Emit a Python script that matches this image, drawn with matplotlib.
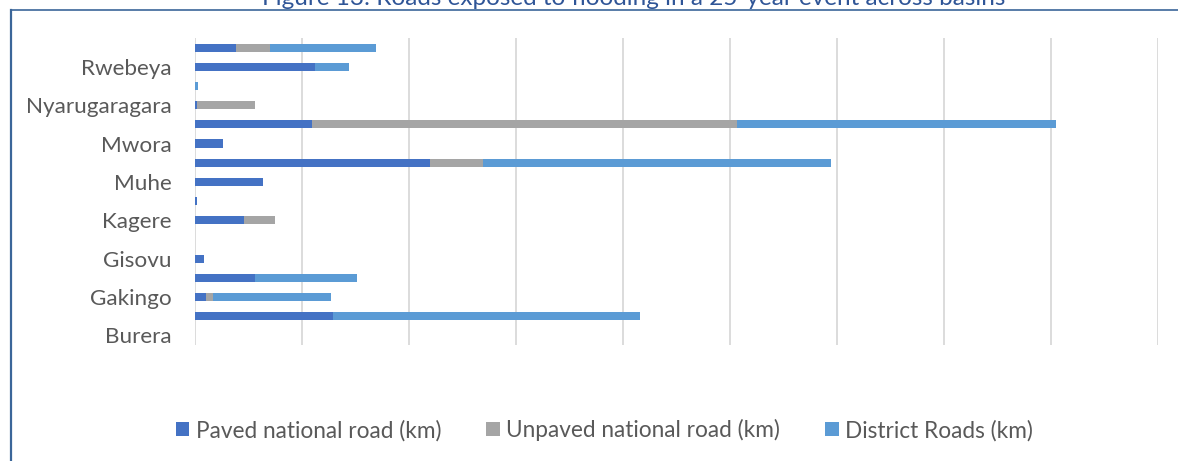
import matplotlib.pyplot as plt
from matplotlib.lines import Line2D
import numpy as np

plt.rcParams['font.family'] = ['Lato', 'DejaVu Sans']

# basins bottom to top, only every other one is labelled on the axis
basins = ["Burera", "", "Gakingo", "", "Gisovu", "", "Kagere", "", "Muhe", "",
          "Mwora", "", "Nyarugaragara", "", "Rwebeya", ""]

paved = [0, 12.9, 1.0, 5.6, 0.8, 0, 4.6, 0.2, 6.4, 22.0, 2.6, 10.9, 0.15, 0, 11.2, 3.8]
unpaved = [0, 0, 0.7, 0, 0, 0, 2.9, 0, 0, 4.9, 0, 39.8, 5.5, 0, 0, 3.2]
district = [0, 28.7, 11.0, 9.5, 0, 0, 0, 0, 0, 32.5, 0, 29.8, 0, 0.25, 3.2, 9.9]

series_names = ["Paved national road (km)", "Unpaved national road (km)", "District Roads (km)"]
colors = ["#4472C4", "#A5A5A5", "#5B9BD5"]

fig = plt.figure(figsize=(11.78, 4.61), dpi=100)
ax = fig.add_axes([0.1655, 0.2516, 0.8175, 0.666])

y = np.arange(len(basins))
left = np.zeros(len(basins))
for vals, name, col in zip([paved, unpaved, district], series_names, colors):
    ax.barh(y, vals, left=left, height=0.42, color=col, label=name, zorder=3)
    left = left + np.array(vals)

ax.set_xlim(0, 90)
ax.set_ylim(-0.5, len(basins) - 0.5)
ax.set_xticks(np.arange(0, 91, 10))
ax.set_xticklabels([])
ax.grid(axis='x', color='#D9D9D9', linewidth=1.3, zorder=0)
ax.set_yticks(y[::2])
ax.set_yticklabels(basins[::2], fontsize=16.2, color='#595959')
ax.tick_params(axis='both', length=0)
ax.tick_params(axis='y', pad=17)
for s in ax.spines.values():
    s.set_visible(False)

fig.legend(loc='center', bbox_to_anchor=(0.513, 0.067), ncol=3, frameon=False,
           fontsize=16.3, handlelength=0.6, handleheight=0.6, handletextpad=0.27,
           columnspacing=2.0, labelcolor='#595959')

# frame around the chart and the clipped caption above it
fig.add_artist(Line2D([11 / 1178, 11 / 1178], [0, 1 - 10 / 461], color='#3B6699',
                      linewidth=1.6, transform=fig.transFigure))
fig.add_artist(Line2D([11 / 1178, 1], [1 - 10 / 461, 1 - 10 / 461], color='#3B6699',
                      linewidth=1.2, transform=fig.transFigure))
fig.text(634 / 1178, 1 - 5 / 461, "Figure 13: Roads exposed to flooding in a 25-year event across basins",
         ha='center', va='baseline', fontsize=17.5, color='#2F5597')

fig.savefig('out.png', dpi=100)
